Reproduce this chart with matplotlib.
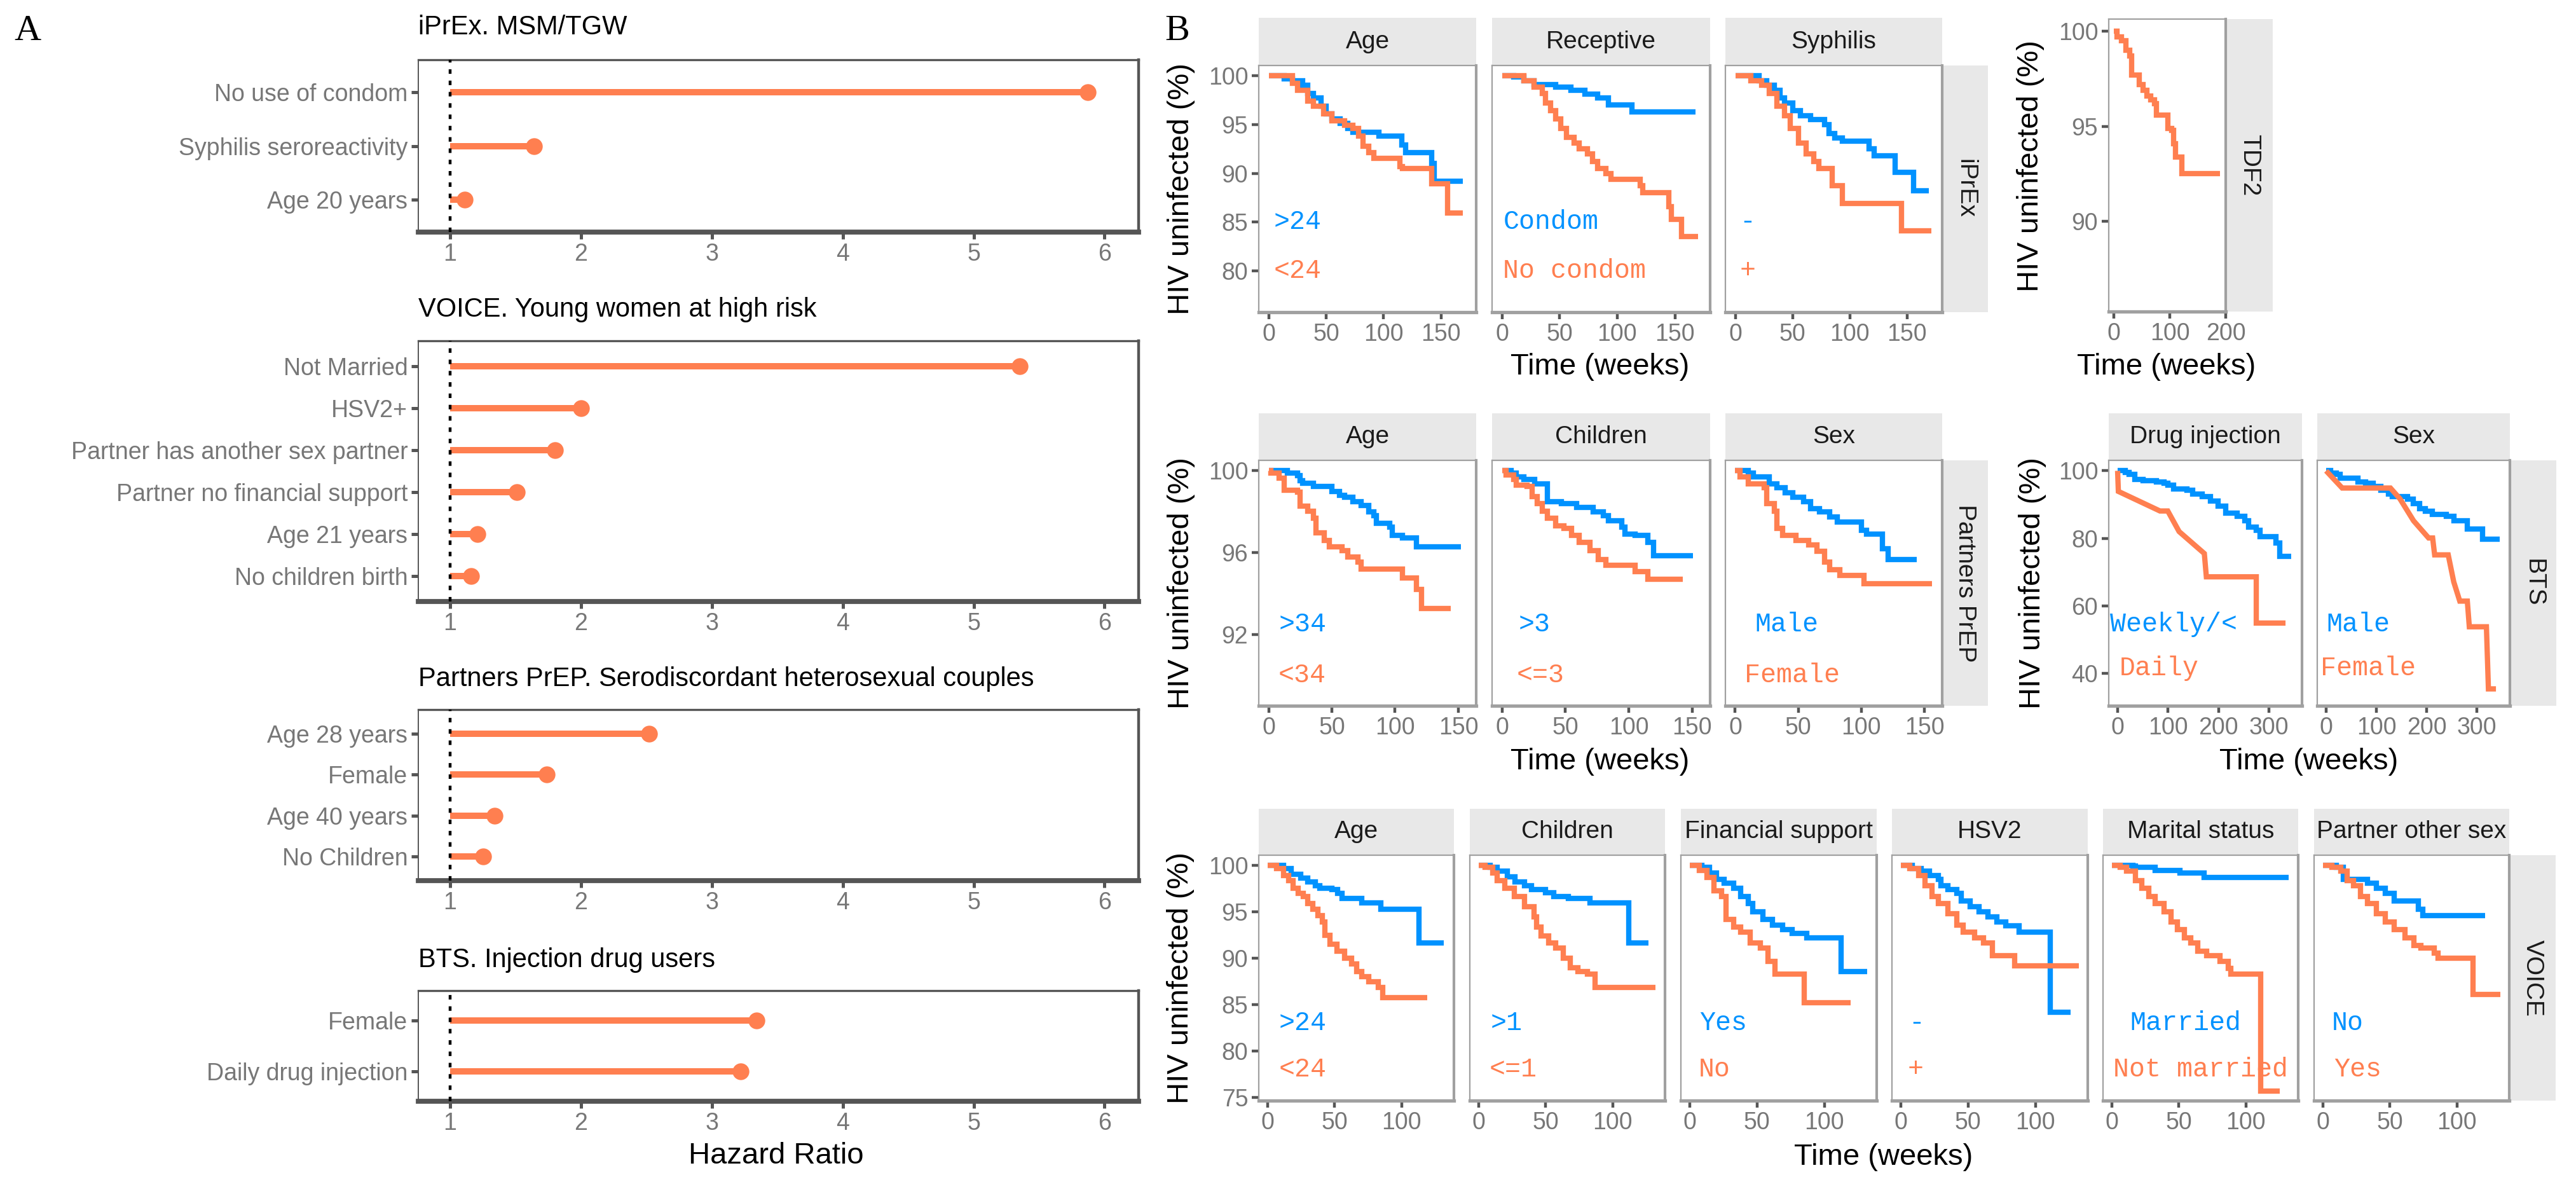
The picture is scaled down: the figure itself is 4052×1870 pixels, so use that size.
import matplotlib.pyplot as plt
from matplotlib.patches import Rectangle

plt.rcParams['font.family'] = ['Liberation Sans', 'DejaVu Sans']

W, H = 4052, 1870
BLUE = '#0092FF'
ORANGE = '#FF7F50'
TICK_TXT = '#777777'
STRIP = '#E8E8E8'

# ---------------- panel A: hazard ratios
iprex_factors = ["No use of condom", "Syphilis seroreactivity", "Age 20 years"]
iprex_hr = [5.87, 1.64, 1.11]
voice_factors = ["Not Married", "HSV2+", "Partner has another sex partner",
                 "Partner no financial support", "Age 21 years", "No children birth"]
voice_hr = [5.35, 2.00, 1.80, 1.51, 1.21, 1.16]
partners_factors = ["Age 28 years", "Female", "Age 40 years", "No Children"]
partners_hr = [2.52, 1.74, 1.34, 1.25]
bts_factors = ["Female", "Daily drug injection"]
bts_hr = [3.34, 3.22]

# ---------------- panel B: survival curves (week, % uninfected)
iprex_age_hi = [(0, 100), (13.7, 99.7), (20.6, 99.5), (29.7, 99.0), (34, 98.2), (39, 97.7), (45.7, 96.9),
                (50, 96.1), (55, 95.6), (62, 95.1), (68.6, 94.6), (73, 94.2), (96, 93.8), (116, 92.9),
                (119, 92.1), (141.7, 91.0), (144, 89.2), (169, 89.2)]
iprex_age_lo = [(0, 100), (20.6, 99.2), (25, 98.5), (34, 97.4), (39, 96.9), (48, 96.1), (55, 95.4),
                (66, 94.9), (73, 94.6), (78, 93.8), (82, 92.8), (87, 92.1), (91.4, 91.5), (114, 90.7),
                (116.6, 90.5), (141.7, 88.9), (155.5, 85.9), (169, 85.9)]
iprex_condom = [(0, 100), (10, 99.9), (19, 99.5), (28, 99.1), (46.6, 98.8), (60, 98.5), (71.8, 98.1),
                (83, 97.7), (92.4, 97.0), (113, 96.3), (167.8, 96.3)]
iprex_nocondom = [(0, 100), (19, 99.5), (28, 98.8), (35, 98.2), (37.5, 97.2), (42, 96.4), (46.6, 95.6),
                  (51, 94.6), (56, 93.7), (62.6, 93.1), (67, 92.5), (74, 92.0), (78.7, 91.2), (83, 90.5),
                  (90, 90.0), (94.7, 89.4), (120, 88.7), (122, 88.0), (145, 86.6), (147, 85.3),
                  (156, 83.5), (170, 83.5)]
iprex_syph_neg = [(0, 100), (20.6, 99.5), (27.4, 99.0), (34, 98.5), (39, 97.7), (43, 97.2), (50, 96.4),
                  (57, 95.9), (66, 95.5), (77.7, 95.0), (82, 94.1), (86.9, 93.6), (93.7, 93.3),
                  (116.6, 92.5), (121, 91.8), (139.7, 90.1), (155.5, 88.2), (169, 88.2)]
iprex_syph_pos = [(0, 100), (13.7, 99.5), (23, 99.0), (29.7, 98.2), (36.6, 96.9), (43, 95.9), (48, 94.6),
                  (55, 93.1), (61.7, 92.0), (68.6, 91.2), (73, 90.5), (84.6, 88.7), (93.7, 86.9),
                  (145, 84.1), (171, 84.1)]

tdf2_all = [(0, 100), (5.5, 99.7), (13.8, 99.5), (20.7, 99.0), (27.6, 98.7), (31, 97.7), (45, 97.2),
            (52, 96.9), (59, 96.6), (65.5, 96.4), (72, 96.2), (76, 95.6), (96.5, 94.9), (103, 94.8),
            (107, 94.1), (110, 93.4), (121, 92.5), (190, 92.5)]

partners_age_hi = [(0, 100), (14.6, 99.88), (22.9, 99.76), (25, 99.52), (27, 99.4), (35.4, 99.23),
                   (50, 99.0), (56, 98.8), (60, 98.7), (66.7, 98.5), (73, 98.3), (79, 98.0), (83, 97.8),
                   (85.4, 97.44), (95.8, 97.26), (98, 96.85), (106, 96.73), (116.7, 96.3), (152, 96.3)]
partners_age_lo = [(0, 100), (2, 99.88), (8.3, 99.64), (12.5, 99.05), (23, 98.95), (25, 98.28),
                   (31, 98.04), (35.4, 97.68), (37.5, 96.97), (43.75, 96.6), (48, 96.3), (58, 96.1),
                   (62.5, 95.8), (70.8, 95.54), (73, 95.2), (106, 94.77), (116.7, 94.2), (121, 93.28),
                   (143.75, 93.28)]
partners_child_hi = [(0, 100), (7, 99.88), (11, 99.7), (17.5, 99.58), (25.8, 99.35), (36, 98.5),
                     (46.7, 98.4), (59, 98.2), (71.7, 98.0), (80, 97.8), (84, 97.56), (94.6, 97.26),
                     (96.7, 96.9), (105, 96.85), (115, 96.5), (119.6, 95.84), (150.8, 95.84)]
partners_child_lo = [(0, 100), (3, 99.8), (9, 99.58), (11.25, 99.29), (19.6, 99.23), (23.75, 98.75),
                     (28, 98.4), (32, 98.04), (36, 97.68), (42.5, 97.3), (48.75, 97.2), (55, 96.85),
                     (61, 96.5), (69.6, 96.1), (75.8, 95.66), (82, 95.4), (105, 95.07), (115, 94.7),
                     (142.5, 94.7)]
partners_male = [(0, 100), (10.4, 99.88), (14.6, 99.7), (27, 99.35), (33, 99.17), (39.6, 98.93),
                  (45.8, 98.7), (54, 98.5), (60, 98.16), (66.7, 97.98), (75, 97.74), (81, 97.5),
                  (100, 97.09), (104, 96.9), (116.7, 96.2), (121, 95.66), (143.75, 95.66)]
partners_female = [(0, 100), (4, 99.7), (10.4, 99.35), (22.9, 99.17), (25, 98.4), (31, 98.04), (33, 97.2),
                   (37.5, 96.85), (48, 96.6), (58, 96.37), (64.6, 96.08), (70.8, 95.54), (75, 95.18),
                   (83, 94.9), (102, 94.47), (156, 94.47)]

bts_weekly = [(0, 100), (15, 99.6), (23, 98.9), (34, 97.5), (50, 97.1), (76.5, 96.75), (92, 96.4),
              (99.5, 95.7), (111, 94.6), (138, 94.2), (149, 93.1), (168, 92.4), (184, 91.0), (199, 89.5),
              (214, 87.4), (237, 86.6), (252.5, 85.2), (260, 83.4), (275, 82.3), (283, 80.5),
              (314, 78.7), (321, 74.7), (344, 74.7)]
bts_daily = [(0, 100), (1.5, 93.9), (84, 88.1), (99.5, 88.1), (122, 82.0), (172, 75.5), (176, 68.6),
             (275, 68.6), (275, 54.9), (333, 54.9)]
bts_male = [(0, 100), (9, 99.3), (20.7, 98.9), (28, 97.8), (63, 96.75), (78, 96.4), (93.6, 95.3),
            (109, 94.2), (124, 93.1), (132, 92.4), (162, 91.7), (174, 90.3), (185.6, 88.8), (197, 88.1),
            (212, 87.0), (239, 86.6), (254, 85.2), (281, 82.7), (311, 79.8), (346, 79.8)]
bts_female = [(0, 100), (32, 94.9), (128, 94.9), (147, 91.7), (174, 85.2), (204, 80.1), (212, 80.1),
              (216, 75.1), (243, 75.1), (254, 67.1), (266, 61.4), (281, 61.4), (285, 53.8), (319, 53.8),
              (323, 35.4), (338, 35.4)]

voice_age_hi = [(0, 100), (12, 99.66), (17.4, 99.1), (24.6, 98.68), (30, 98.26), (35.5, 97.84),
                (39, 97.56), (48, 97.4), (52, 97.0), (55.4, 96.44), (70, 96.0), (84.4, 95.3),
                (113, 91.7), (131.5, 91.7)]
voice_age_lo = [(0, 100), (6.5, 99.66), (12, 98.96), (15.6, 98.4), (19.2, 97.56), (22.8, 97.0),
                (26.4, 96.7), (30, 95.9), (33.7, 95.3), (37.3, 94.6), (41, 93.9), (42.8, 92.5),
                (46.4, 91.5), (51.8, 90.8), (57.2, 90.0), (62.7, 89.4), (66.3, 88.6), (70, 88.0),
                (75.4, 87.5), (82.6, 86.9), (86, 85.8), (118.8, 85.8)]
voice_child_hi = [(0, 100), (8.7, 99.8), (14, 99.4), (21.4, 98.8), (27, 98.26), (34, 97.84),
                  (39.5, 97.4), (50, 97.1), (55.8, 96.7), (66.7, 96.44), (83, 96.0), (112, 91.7),
                  (126.4, 91.7)]
voice_child_lo = [(0, 100), (5, 99.8), (10.5, 99.24), (14, 98.4), (19.6, 97.56), (26.8, 96.7), (34, 95.6),
                  (41.3, 94.5), (43, 93.4), (46.7, 92.4), (52, 91.7), (57.6, 91.1), (63, 90.0),
                  (68.5, 89.0), (74, 88.6), (81, 88.3), (86.6, 86.9), (132, 86.9)]
voice_fin_yes = [(0, 100), (9, 99.8), (14.5, 99.24), (20, 98.5), (25.4, 98.1), (32.6, 97.56), (38, 96.7),
                 (43.5, 95.9), (47, 95.0), (54.3, 94.2), (61.6, 93.6), (68.8, 93.1), (76, 92.7),
                 (87, 92.2), (112.3, 88.6), (132, 88.6)]
voice_fin_no = [(0, 100), (7, 99.5), (12.7, 98.7), (18, 97.3), (23.5, 96.7), (27, 94.2), (32.6, 93.4),
                (38, 92.8), (45, 91.7), (52.5, 91.1), (58, 89.7), (63.4, 88.3), (85, 85.2), (119.6, 85.2)]
voice_hsv_neg = [(0, 100), (8.3, 99.66), (15, 99.4), (21.5, 98.96), (28, 98.5), (29.8, 97.84),
                 (34.8, 97.4), (41.4, 97.0), (44.7, 96.2), (51.3, 95.6), (58, 95.0), (64.6, 94.5),
                 (71.5, 93.9), (78, 93.5), (87.7, 92.8), (111, 84.2), (126, 84.2)]
voice_hsv_pos = [(0, 100), (6.6, 99.66), (13.2, 98.96), (18.2, 97.84), (23, 96.7), (28, 95.9),
                 (34.8, 94.8), (41.4, 93.6), (46.4, 92.8), (54.6, 92.2), (61.3, 91.7), (68, 90.3),
                 (84.4, 89.2), (132.5, 89.2)]
voice_married = [(0, 100), (15.9, 99.94), (17.5, 99.8), (32.5, 99.5), (50.7, 99.24), (68.9, 98.7),
                 (131.8, 98.7)]
voice_notmarried = [(0, 100), (6, 99.8), (11, 99.4), (17.5, 98.4), (22.5, 97.56), (27.5, 96.7),
                    (32.5, 95.9), (39, 95.0), (44, 93.9), (49, 93.1), (54, 92.2), (59, 91.7), (64, 90.8),
                    (70.5, 90.3), (80.5, 89.7), (87, 88.9), (88.7, 88.3), (111, 75.7), (125, 75.7)]
voice_partner_no = [(0, 100), (10, 99.8), (15, 98.5), (33, 98.1), (39.7, 97.56), (46.4, 97.0), (53, 96.2),
                    (71.2, 95.3), (74.5, 94.6), (120.9, 94.6)]
voice_partner_yes = [(0, 100), (6.6, 99.8), (13.2, 99.4), (18.2, 98.4), (23, 97.84), (28, 96.7),
                     (33, 95.9), (39.7, 94.8), (46.4, 93.9), (53, 93.1), (61.3, 92.2), (68, 91.4),
                     (72.8, 91.1), (83, 90.6), (86, 90.0), (112, 86.1), (132.5, 86.1)]

fig = plt.figure(figsize=(W / 200, H / 200), dpi=200)


def box(x0, y0, x1, y1):
    return fig.add_axes([x0 / W, 1 - y1 / H, (x1 - x0) / W, (y1 - y0) / H])


def ftext(x, y, s, **kw):
    fig.text(x / W, 1 - y / H, s, **kw)


def rect(x0, y0, x1, y1):
    fig.add_artist(Rectangle((x0 / W, 1 - y1 / H), (x1 - x0) / W, (y1 - y0) / H,
                             transform=fig.transFigure, facecolor=STRIP, edgecolor='none', zorder=0))


# ---------------- A
def lollipop(top, bottom, title_y, title, factors, hr):
    ax = box(658, top, 1791, bottom)
    n = len(factors)
    ypos = list(range(n - 1, -1, -1))
    ax.hlines(ypos, 1, hr, color=ORANGE, lw=3.6)
    ax.plot(hr, ypos, 'o', color=ORANGE, ms=9.5, mec='none')
    ax.axvline(1, color='black', lw=1.6, ls=(0, (1.6, 2.4)), zorder=5)
    ax.set_xlim(0.757, 6.26)
    ax.set_ylim(-0.6, n - 0.4)
    ax.set_xticks(range(1, 7))
    ax.set_yticks(ypos, factors)
    ax.tick_params(colors='#555555', labelcolor=TICK_TXT, labelsize=13.5, length=4, width=1.8, pad=2)
    for s, lw in (('top', 1.2), ('right', 1.6), ('left', 0.7), ('bottom', 2.8)):
        ax.spines[s].set_linewidth(lw)
        ax.spines[s].set_color('#555555')
    ftext(658, title_y, title, fontsize=15, ha='left', va='center')
    return ax


lollipop(94, 365, 43, "iPrEx. MSM/TGW", iprex_factors, iprex_hr)
lollipop(536, 946, 487, "VOICE. Young women at high risk", voice_factors, voice_hr)
lollipop(1116, 1385, 1068, "Partners PrEP. Serodiscordant heterosexual couples", partners_factors, partners_hr)
lollipop(1558, 1732, 1510, "BTS. Injection drug users", bts_factors, bts_hr)
ftext(1221, 1818, "Hazard Ratio", fontsize=17, ha='center', va='center')
ftext(43, 49, "A", fontsize=21, family='Liberation Serif', ha='center', va='center')
ftext(1852, 49, "B", fontsize=21, family='Liberation Serif', ha='center', va='center')


# ---------------- B
def km_panel(x0, x1, top, bottom, lims, ticks, curves, texts, first):
    ax = box(x0, top, x1, bottom)
    for pts, color, linear in curves:
        t = [p[0] for p in pts]
        s = [p[1] for p in pts]
        ax.plot(t, s, color=color, lw=3.0, drawstyle='default' if linear else 'steps-post',
                solid_joinstyle='miter', solid_capstyle='butt')
    for tx, ty, txt, color in texts:
        ax.text(tx, ty, txt, color=color, family='Liberation Mono', fontsize=15,
                ha='left', va='center')
    ax.set_xlim(*lims[0])
    ax.set_ylim(*lims[1])
    ax.set_xticks(ticks[0])
    ax.set_yticks(ticks[1])
    ax.tick_params(colors='#555555', labelcolor=TICK_TXT, labelsize=13.5, length=4, width=1.6, pad=2)
    if not first:
        ax.tick_params(axis='y', left=False, labelleft=False)
    for s, lw in (('top', 0.8), ('left', 0.8), ('right', 1.5), ('bottom', 1.9)):
        ax.spines[s].set_color('#A0A0A0')
        ax.spines[s].set_linewidth(lw)
    return ax


def km_row(xs, top, bottom, strip_top, names, curves, texts, lims, ticks, rstrip, rname):
    for i, (x0, x1) in enumerate(xs):
        km_panel(x0, x1, top, bottom, lims, ticks, curves[i], texts[i], i == 0)
        if names:
            rect(x0, strip_top, x1, top)
            ftext((x0 + x1) / 2, (strip_top + top) / 2, names[i], fontsize=14, color='#1A1A1A',
                  ha='center', va='center')
    rect(rstrip[0], top, rstrip[1], bottom)
    ftext((rstrip[0] + rstrip[1]) / 2, (top + bottom) / 2, rname, fontsize=14, color='#1A1A1A',
          rotation=-90, ha='center', va='center')


def ylab(x, y):
    ftext(x, y, "HIV uninfected (%)", fontsize=17, rotation=90, ha='center', va='center')


def xlab(x, y):
    ftext(x, y, "Time (weeks)", fontsize=17, ha='center', va='center')


# row 1: iPrEx
cols3 = [(1980, 2322), (2347, 2690), (2714, 3055)]
km_row(cols3, 103, 491, 28, ["Age", "Receptive", "Syphilis"],
       [[(iprex_age_hi, BLUE, False), (iprex_age_lo, ORANGE, False)],
        [(iprex_condom, BLUE, False), (iprex_nocondom, ORANGE, False)],
        [(iprex_syph_neg, BLUE, False), (iprex_syph_pos, ORANGE, False)]],
       [[(4.6, 85, ">24", BLUE), (4.6, 80, "<24", ORANGE)],
        [(1, 85, "Condom", BLUE), (1, 80, "No condom", ORANGE)],
        [(4, 85, "-", BLUE), (4, 80, "+", ORANGE)]],
       ((-8.6, 180.6), (75.77, 101.04)), ([0, 50, 100, 150], [80, 85, 90, 95, 100]),
       (3055, 3127), "iPrEx")
ylab(1858, 297)
xlab(2517, 577)

# TDF2
km_row([(3317, 3501)], 30, 490, None, None, [[(tdf2_all, ORANGE, False)]], [[]],
       ((-9.5, 199.5), (85.27, 100.63)), ([0, 100, 200], [90, 95, 100]), (3501, 3575), "TDF2")
ylab(3194, 261)
xlab(3408, 577)

# row 2: Partners PrEP
km_row(cols3, 724, 1110, 650, ["Age", "Children", "Sex"],
       [[(partners_age_hi, BLUE, False), (partners_age_lo, ORANGE, False)],
        [(partners_child_hi, BLUE, False), (partners_child_lo, ORANGE, False)],
        [(partners_male, BLUE, False), (partners_female, ORANGE, False)]],
       [[(8.3, 92.5, ">34", BLUE), (7.5, 90, "<34", ORANGE)],
        [(13.3, 92.5, ">3", BLUE), (11.7, 90, "<=3", ORANGE)],
        [(15.8, 92.5, "Male", BLUE), (7.5, 90, "Female", ORANGE)]],
       ((-7.8, 164.1), (88.52, 100.51)), ([0, 50, 100, 150], [92, 96, 100]),
       (3055, 3127), "Partners PrEP")
ylab(1858, 917)
xlab(2517, 1198)

# row 2: BTS
km_row([(3317, 3621), (3645, 3948)], 724, 1110, 650, ["Drug injection", "Sex"],
       [[(bts_weekly, BLUE, False), (bts_daily, ORANGE, True)],
        [(bts_male, BLUE, False), (bts_female, ORANGE, True)]],
       [[(-15, 54.5, "Weekly/<", BLUE), (4, 41.5, "Daily", ORANGE)],
        [(0, 54.5, "Male", BLUE), (-11.5, 41.5, "Female", ORANGE)]],
       ((-17.6, 365.7), (30.4, 103.1)), ([0, 100, 200, 300], [40, 60, 80, 100]),
       (3948, 4021), "BTS")
ylab(3197, 917)
xlab(3632, 1198)

# row 3: VOICE
cols6 = [(1980, 2287), (2312, 2619), (2644, 2952), (2976, 3284), (3308, 3615), (3640, 3947)]
km_row(cols6, 1345, 1731, 1272,
       ["Age", "Children", "Financial support", "HSV2", "Marital status", "Partner other sex"],
       [[(voice_age_hi, BLUE, False), (voice_age_lo, ORANGE, False)],
        [(voice_child_hi, BLUE, False), (voice_child_lo, ORANGE, False)],
        [(voice_fin_yes, BLUE, False), (voice_fin_no, ORANGE, False)],
        [(voice_hsv_neg, BLUE, False), (voice_hsv_pos, ORANGE, False)],
        [(voice_married, BLUE, False), (voice_notmarried, ORANGE, False)],
        [(voice_partner_no, BLUE, False), (voice_partner_yes, ORANGE, False)]],
       [[(8.3, 83, ">24", BLUE), (8.3, 78, "<24", ORANGE)],
        [(8.7, 83, ">1", BLUE), (8, 78, "<=1", ORANGE)],
        [(7.2, 83, "Yes", BLUE), (6.5, 78, "No", ORANGE)],
        [(6, 83, "-", BLUE), (5, 78, "+", ORANGE)],
        [(13.6, 83, "Married", BLUE), (1, 78, "Not married", ORANGE)],
        [(6.6, 83, "No", BLUE), (8.3, 78, "Yes", ORANGE)]],
       ((-6.6, 138.9), (74.66, 101.13)), ([0, 50, 100], [75, 80, 85, 90, 95, 100]),
       (3947, 4020), "VOICE")
ylab(1857, 1538)
xlab(2963, 1820)

fig.savefig("out.png", dpi=200, facecolor='white')
